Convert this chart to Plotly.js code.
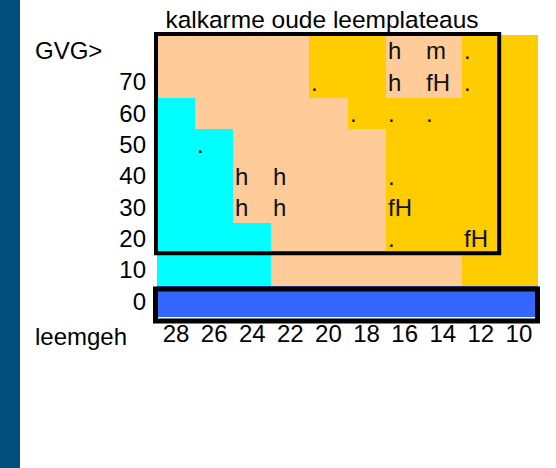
<!DOCTYPE html>
<html>
<head>
<meta charset="utf-8">
<script src="https://cdn.plot.ly/plotly-3.0.1.min.js"></script>
<style>
  html, body { margin: 0; padding: 0; background: #fff; }
  #wrap { position: relative; width: 556px; height: 468px; }
  #chart { position: absolute; left: 0; top: 0; width: 556px; height: 468px; }
  #strip { position: absolute; left: 0; top: 0; width: 20px; height: 468px; background: #024F7B; z-index: 10; }
</style>
</head>
<body>
<div id="wrap"><div id="chart"></div><div id="strip"></div></div>
<script>
// Column categories (leemgehalte) left to right
var columns = ["28", "26", "24", "22", "20", "18", "16", "14", "12", "10"];
// Row categories (GVG) bottom to top
var rows = ["0", "10", "20", "30", "40", "50", "60", "70", "GVG>"];
var rowTickText = ["0", "10", "20", "30", "40", "50", "60", "70", ""];
// Class codes: 0 = blue, 1 = cyan, 2 = peach, 3 = gold
var row0   = [0, 0, 0, 0, 0, 0, 0, 0, 0, 0];
var row10  = [1, 1, 1, 2, 2, 2, 2, 2, 3, 3];
var row20  = [1, 1, 1, 2, 2, 2, 3, 3, 3, 3];
var row30  = [1, 1, 2, 2, 2, 2, 3, 3, 3, 3];
var row40  = [1, 1, 2, 2, 2, 2, 3, 3, 3, 3];
var row50  = [1, 1, 2, 2, 2, 2, 3, 3, 3, 3];
var row60  = [1, 2, 2, 2, 2, 3, 3, 3, 3, 3];
var row70  = [2, 2, 2, 2, 3, 3, 2, 2, 3, 3];
var rowGVG = [2, 2, 2, 2, 3, 3, 2, 2, 3, 3];
// Cell labels
var lab0   = ["", "", "", "", "", "", "", "", "", ""];
var lab10  = ["", "", "", "", "", "", "", "", "", ""];
var lab20  = ["", "", "", "", "", "", ".", "", "fH", ""];
var lab30  = ["", "", "h", "h", "", "", "fH", "", "", ""];
var lab40  = ["", "", "h", "h", "", "", ".", "", "", ""];
var lab50  = ["", ".", "", "", "", "", "", "", "", ""];
var lab60  = ["", "", "", "", "", ".", ".", ".", "", ""];
var lab70  = ["", "", "", "", ".", "", "h", "fH", ".", ""];
var labGVG = ["", "", "", "", "", "", "h", "m", ".", ""];

var classColors = ["#3366FF", "#00FFFF", "#FFCC99", "#FFCC00"];
var titleText = "kalkarme oude leemplateaus";
var rowAxisName = "GVG>";
var colAxisName = "leemgeh";

var z = [row0, row10, row20, row30, row40, row50, row60, row70, rowGVG];
var labels = [lab0, lab10, lab20, lab30, lab40, lab50, lab60, lab70, labGVG];
var xIdx = columns.map(function (_, i) { return i; });
var yIdx = rows.map(function (_, i) { return i; });
var nc = columns.length, nr = rows.length;

var n = classColors.length;
var cs = [];
classColors.forEach(function (c, i) {
  cs.push([i / n, c]);
  cs.push([(i + 1) / n, c]);
});

var font = "Arial, 'Liberation Sans', sans-serif";
var fs = 24;

var M = { l: 157, r: 18, t: 35, b: 151 };
var PW = 556 - M.l - M.r, PH = 468 - M.t - M.b;
// cell-boundary to domain fraction, with pixel nudge
function dx(colEdge, px) { return (colEdge + 0.5) / nc + (px || 0) / PW; }
function dy(rowEdge, px) { return (rowEdge + 0.5) / nr + (px || 0) / PH; }

var annotations = [];
labels.forEach(function (r, yi) {
  r.forEach(function (t, xi) {
    if (t !== "") {
      annotations.push({
        x: xi - 0.5, y: yi, xref: "x", yref: "y", text: t, showarrow: false,
        xanchor: "left", yanchor: "middle", xshift: 0, yshift: 0,
        font: { family: font, size: fs, color: "#111" }
      });
    }
  });
});
annotations.push({
  x: -0.325, y: nr - 1, xref: "paper", yref: "y", text: rowAxisName, showarrow: false,
  xanchor: "left", yanchor: "middle", font: { family: font, size: fs, color: "#000" }
});
annotations.push({
  x: -0.325, y: -0.07, xref: "paper", yref: "paper", text: colAxisName, showarrow: false,
  xanchor: "left", yanchor: "middle", font: { family: font, size: fs, color: "#000" }
});

var trace = {
  type: "heatmap", x: xIdx, y: yIdx, z: z,
  zmin: -0.5, zmax: n - 0.5,
  colorscale: cs, showscale: false, hoverinfo: "skip", xgap: 0, ygap: 0
};

var layout = {
  width: 556, height: 468,
  margin: { l: M.l, r: M.r, t: M.t, b: M.b, pad: 0 },
  paper_bgcolor: "#fff", plot_bgcolor: "#fff",
  title: { text: titleText, x: 322 / 556, xanchor: "center", xref: "container",
           y: 1 - 19 / 468, yanchor: "middle", yref: "container",
           font: { family: font, size: 24.5, color: "#000" } },
  xaxis: { range: [-0.5, nc - 0.5], tickvals: xIdx, ticktext: columns,
           showgrid: false, zeroline: false, showline: false, ticks: "", fixedrange: true,
           tickfont: { family: font, size: fs, color: "#000" } },
  yaxis: { range: [-0.5, nr - 0.5], tickvals: yIdx, ticktext: rowTickText,
           showgrid: false, zeroline: false, showline: false, ticks: "", fixedrange: true,
           ticklabelstandoff: 10,
           tickfont: { family: font, size: fs, color: "#000" } },
  shapes: [
    // frame around GVG>..20 rows, columns 28..12
    { type: "rect", xref: "x domain", yref: "y domain",
      x0: dx(-0.5, -1), x1: dx(8.5, -0.7), y0: dy(1.5, 1), y1: dy(nr - 0.5, 1),
      line: { color: "#000", width: 4 }, fillcolor: "rgba(0,0,0,0)", layer: "above" },
    // frame around the 0 row
    { type: "rect", xref: "x domain", yref: "y domain",
      x0: dx(-0.5, -1.5), x1: dx(nc - 0.5, -0.5), y0: dy(-0.5, -4), y1: dy(0.5, -3.3),
      line: { color: "#000", width: 5 }, fillcolor: "rgba(0,0,0,0)", layer: "above" }
  ],
  annotations: annotations,
  showlegend: false
};

Plotly.newPlot("chart", [trace], layout, { displayModeBar: false, staticPlot: true });
</script>
</body>
</html>
